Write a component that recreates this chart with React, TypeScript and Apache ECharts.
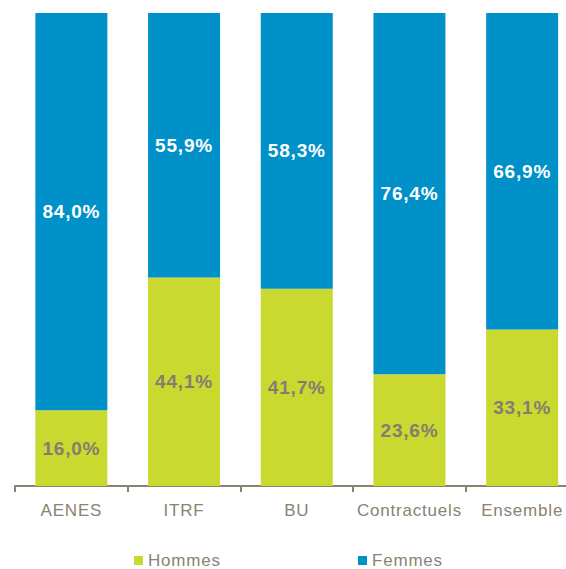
import React, { useEffect, useRef } from "react";
import * as echarts from "echarts";

const categories = ["AENES", "ITRF", "BU", "Contractuels", "Ensemble"];
const hommes = [16.0, 44.1, 41.7, 23.6, 33.1];
const femmes = [84.0, 55.9, 58.3, 76.4, 66.9];

const fmt = (v: number) => v.toFixed(1).replace(".", ",") + "%";

export default function App() {
  const ref = useRef<HTMLDivElement>(null);
  useEffect(() => {
    if (!ref.current) return;
    const chart = echarts.init(ref.current, null, { renderer: "svg" });
    const font = "'Liberation Sans', Arial, sans-serif";
    chart.setOption({
      animation: false,
      backgroundColor: "#ffffff",
      grid: {
        left: 15,
        top: 13,
        right: -12.5,
        bottom: 83,
        containLabel: false,
        outerBoundsMode: "none",
      },
      legend: {
        left: 129,
        top: 547,
        itemWidth: 9,
        itemHeight: 9,
        itemGap: 142,
        icon: "rect",
        textStyle: {
          fontFamily: font,
          fontSize: 17,
          color: "#8B8272",
        },
        data: ["Hommes", "Femmes"],
      },
      xAxis: {
        type: "category",
        data: categories,
        axisLine: { lineStyle: { color: "#8C8273", width: 2 } },
        axisTick: { show: true, length: 6, lineStyle: { color: "#8C8273", width: 2 } },
        axisLabel: {
          margin: 16,
          fontFamily: font,
          fontSize: 17,
          color: "#8B8272",
          interval: 0,
        },
      },
      yAxis: {
        type: "value",
        min: 0,
        max: 100,
        show: false,
        splitLine: { show: false },
      },
      series: [
        {
          name: "Hommes",
          type: "bar",
          stack: "total",
          data: hommes,
          barWidth: 72,
          itemStyle: { color: "#C9D92F" },
          label: {
            show: true,
            position: "inside",
            formatter: (p: any) => fmt(p.value),
            color: "#857E70",
            fontWeight: "bold",
            fontSize: 19,
            fontFamily: font,
          },
        },
        {
          name: "Femmes",
          type: "bar",
          stack: "total",
          data: femmes,
          barWidth: 72,
          itemStyle: { color: "#0091C9" },
          label: {
            show: true,
            position: "inside",
            formatter: (p: any) => fmt(p.value),
            color: "#ffffff",
            fontWeight: "bold",
            fontSize: 19,
            fontFamily: font,
          },
        },
      ],
    });
    return () => chart.dispose();
  }, []);
  return (
    <>
      <style>{"#root svg text { letter-spacing: 0.8px; }"}</style>
      <div
        ref={ref}
        style={{ position: "fixed", left: 0, top: 0, width: 566, height: 569 }}
      />
    </>
  );
}
